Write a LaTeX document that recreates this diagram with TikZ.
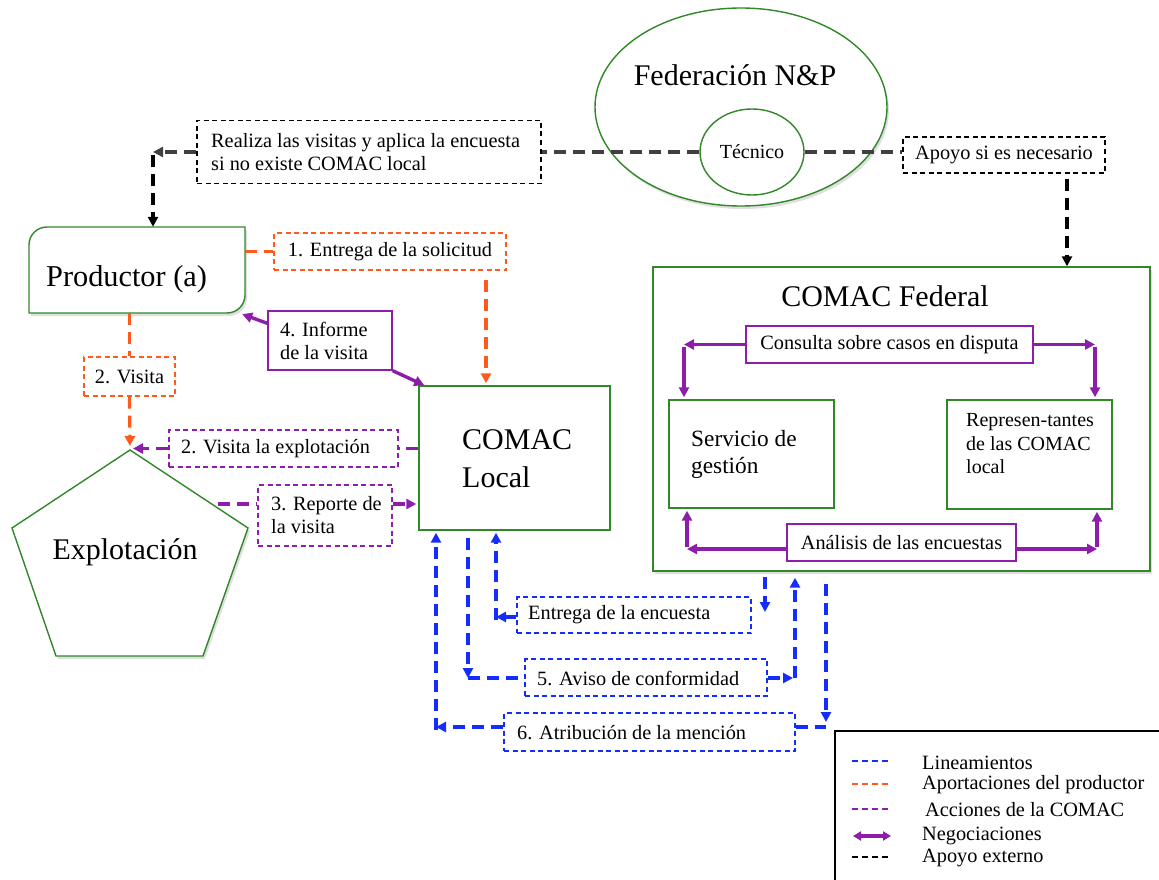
\documentclass[tikz,border=0pt]{standalone}
\usepackage{fontspec}
\setmainfont{Liberation Serif}
\usetikzlibrary{arrows.meta,shapes.geometric,shadows}
\definecolor{cgreen}{RGB}{50,135,40}
\definecolor{corange}{RGB}{255,90,30}
\definecolor{cpurple}{RGB}{140,30,170}
\definecolor{cblue}{RGB}{20,45,250}
\definecolor{cgrey}{RGB}{64,64,64}
\newcommand{\fsml}{\fontsize{20.3}{23}\selectfont}
\newcommand{\fbig}{\fontsize{30}{38}\selectfont}
\begin{document}
\begin{tikzpicture}[x=1pt,y=-1pt,
 txt/.style={font=\fsml, inner sep=0pt},
 dbox/.style={draw, line width=1.2pt, dash pattern=on 5pt off 3.5pt, fill=white, font=\fsml, inner sep=0pt},
 sbox/.style={draw, line width=1.4pt, fill=white, font=\fsml, inner sep=0pt},
 gbox/.style={draw=cgreen, line width=1.4pt, fill=white, inner sep=0pt},
 con/.style={line width=3.2pt, dash pattern=on 12pt off 7pt},
 neg/.style={line width=3.4pt, draw=cpurple},
 arr/.style={-{Triangle[length=10pt,width=10pt]}},
 shd/.style={drop shadow={opacity=0.25,shadow xshift=2pt,shadow yshift=-3pt}},
 lgd/.style={line width=1.5pt, dash pattern=on 6pt off 4pt},
]
\useasboundingbox (0,0) rectangle (1159,880);

% ---------- Federacion ----------
\node[ellipse, gbox, shd, minimum width=292pt, minimum height=198pt] (fed0) at (741,107) {};
\node[txt, font=\fbig] (fedt0) at (735,75) {Federación N\&P};
\node[ellipse, gbox, minimum width=104pt, minimum height=86pt, font=\fontsize{20}{23}\selectfont] (tec) at (752,152) {Técnico};

\node[dbox, minimum width=344pt, minimum height=63pt] (realiza) at (369,152) {};
\node[txt, align=left, anchor=west] (realizat) at (211,152) {Realiza las visitas y aplica la encuesta\\si no existe COMAC local};
\node[dbox, minimum width=202pt, minimum height=36pt] (apoyo) at (1004,155) {Apoyo si es necesario};

% ---------- Productor ----------
\node[minimum width=216pt, minimum height=86pt, inner sep=0pt] (prod) at (137,270) {};
\draw[cgreen, line width=1.4pt, fill=white, shd] (29,245) .. controls (29,235) and (37,227) .. (47,227) -- (245,227) -- (245,295) .. controls (245,305) and (237,313) .. (227,313) -- (29,313) -- cycle;
\node[txt, font=\fontsize{30.3}{36}\selectfont, anchor=west] (prodt) at (46,279) {Productor (a)};

% ---------- Explotacion ----------
\coordinate (ptop) at (130,450);
\coordinate (pr) at (248,528);
\coordinate (pbr) at (203,656);
\coordinate (pbl) at (56,656);
\coordinate (pl) at (12,528);
\draw[cgreen, line width=1.4pt, fill=white, shd] (ptop) -- (pr) -- (pbr) -- (pbl) -- (pl) -- cycle;
\node[txt, font=\fbig] (expl) at (125,552) {Explotación};

% ---------- COMAC Local ----------
\node[gbox, minimum width=191pt, minimum height=144pt] (local) at (514.5,458) {};
\node[txt, font=\fbig, align=left, anchor=west] (localt) at (462,459) {COMAC\\Local};

% ---------- orange ----------
\node[dbox, draw=corange, minimum width=232pt, minimum height=37pt] (sol) at (390,251.5) {1. Entrega de la solicitud};
\node[dbox, draw=corange, minimum width=91pt, minimum height=39pt] (vis) at (129.5,376.5) {2. Visita};

% ---------- purple boxes ----------
\node[sbox, draw=cpurple, minimum width=124pt, minimum height=59pt] (inf) at (330,340.5) {};
\node[txt, align=left, anchor=west] (inft) at (280,340.5) {4. Informe\\de la visita};
\node[dbox, draw=cpurple, minimum width=229pt, minimum height=37pt] (vex) at (283.5,448.5) {};
\node[txt, anchor=west] (vext) at (181,448.5) {2. Visita la explotación};
\node[dbox, draw=cpurple, minimum width=134pt, minimum height=61pt] (rep) at (325,515.5) {};
\node[txt, align=left, anchor=west] (rept) at (271,515.5) {3. Reporte de\\la visita};

% ---------- COMAC Federal ----------
\node[gbox, shd, minimum width=497pt, minimum height=304pt] (fedc) at (901.5,419) {};
\node[txt, font=\fbig] (fedct) at (885,296) {COMAC Federal};
\node[sbox, draw=cpurple, minimum width=287pt, minimum height=37pt] (cons) at (889.5,344.5) {Consulta sobre casos en disputa};
\node[gbox, minimum width=165pt, minimum height=108pt] (serv) at (751.5,454) {};
\node[txt, font=\fontsize{23.3}{27}\selectfont, align=left, anchor=west] (servt) at (691,454) {Servicio de\\gestión};
\node[gbox, minimum width=165pt, minimum height=109pt] (repr) at (1029.5,454.5) {};
\node[txt, font=\fontsize{20}{23.5}\selectfont, align=left, anchor=west] (reprt) at (966,444) {Represen-tantes\\de las COMAC\\local};
\node[sbox, draw=cpurple, minimum width=229pt, minimum height=37pt] (anal) at (901.5,542.5) {Análisis de las encuestas};

% ---------- blue boxes ----------
\node[dbox, draw=cblue, minimum width=234pt, minimum height=36pt] (enc) at (634,615) {};
\node[txt, anchor=west] (enct) at (528,615) {Entrega de la encuesta};
\node[dbox, draw=cblue, minimum width=242pt, minimum height=37pt] (avi) at (646,677.5) {};
\node[txt, anchor=west] (avit) at (537,678) {5. Aviso de conformidad};
\node[dbox, draw=cblue, minimum width=291pt, minimum height=38pt] (atr) at (649.5,732) {};
\node[txt, anchor=west] (atrt) at (517,733) {6. Atribución de la mención};

% ---------- black / grey connectors ----------
\coordinate (c1) at (153,152);
\coordinate (c2) at (1067,0);
\draw[con, cgrey] (tec.west) -- (realiza.east);
\draw[con, cgrey, arr] (realiza.west) -- (c1);
\draw[con, black, arr] ([yshift=-3pt]c1) -- (c1 |- prod.north);
\draw[con, cgrey] (tec.east) -- (apoyo.west |- tec.east);
\draw[con, black, arr, shorten <=5pt] (apoyo.south -| c2) -- (fedc.north -| c2);

% ---------- orange connectors ----------
\coordinate (c3) at (486,0);
\draw[con, corange] (prod.east |- sol.west) -- (sol.west);
\draw[con, corange, arr, shorten <=9pt, shorten >=2pt] (sol.south -| c3) -- (local.north -| c3);
\draw[con, corange] (prod.south -| vis.north) -- (vis.north);
\draw[con, corange, arr, shorten >=4pt] (vis.south) -- (ptop);

% ---------- purple connectors ----------
\draw[neg, arr] ([yshift=-13pt]inf.north west) -- ([xshift=-3pt,yshift=-1pt]prod.south east);
\draw[neg, arr] (inf.south east) -- ([xshift=6pt]local.north west);
\coordinate (c4) at (133,448.5);
\draw[con, cpurple] (local.west |- vex.east) -- (vex.east);
\draw[con, cpurple, arr] (vex.west) -- (c4);
\coordinate (c5) at (218,504);
\draw[con, cpurple] (c5) -- (rep.west |- c5);
\draw[con, cpurple, arr, shorten >=2pt] (rep.east |- c5) -- (local.west |- c5);

% ---------- negotiation arrows ----------
\coordinate (k1) at (684,344.5);
\coordinate (k2) at (1095,344.5);
\coordinate (k3) at (687,549);
\coordinate (k4) at (1097,549);
\draw[neg, arr] (cons.west) -- (k1);
\draw[neg, arr, shorten >=2pt] ([yshift=-2pt]k1) -- (k1 |- serv.north);
\draw[neg, arr] (cons.east) -- (k2);
\draw[neg, arr, shorten >=2pt] ([yshift=-2pt]k2) -- (k2 |- repr.north);
\draw[neg, arr] (anal.west |- k3) -- (k3);
\draw[neg, arr, shorten >=2pt] ([yshift=2pt]k3) -- (k3 |- serv.south);
\draw[neg, arr] (anal.east |- k4) -- (k4);
\draw[neg, arr, shorten >=2pt] ([yshift=2pt]k4) -- (k4 |- repr.south);

% ---------- blue connectors ----------
\coordinate (b1) at (436,727);
\coordinate (b2) at (468,678);
\coordinate (b3) at (496,617);
\coordinate (b4) at (765,612);
\coordinate (b5) at (795,678);
\coordinate (b6) at (826,722);
\coordinate (b6b) at (826,727);
\draw[con, cblue, arr] (atr.west |- b1) -- (b1);
\draw[con, cblue, arr, shorten >=2pt] ([yshift=-3pt]b1) -- (b1 |- local.south);
\draw[con, cblue, arr, shorten <=7pt] (local.south -| b2) -- (b2);
\draw[con, cblue] (b2) -- (avi.west |- b2);
\draw[con, cblue, arr] (enc.west |- b3) -- (b3);
\draw[con, cblue, arr, shorten >=2pt] ([yshift=-3pt]b3) -- (b3 |- local.south);
\draw[con, cblue, arr, shorten <=5pt] (fedc.south -| b4) -- (b4);
\draw[con, cblue, arr, shorten >=2pt] (avi.east |- b5) -- (b5);
\draw[con, cblue, arr, shorten >=6pt] (b5) -- (b5 |- fedc.south);
\draw[con, cblue] (atr.east |- b6b) -- (b6b);
\draw[con, cblue, arr, shorten <=12pt] (fedc.south -| b6) -- (b6);

% ---------- legend ----------
\coordinate (lg) at (835,731);
\draw[line width=1.6pt] (835,880) -- (lg) -- (1159,731);
\draw[lgd, cblue] (852,761) -- (890,761);
\draw[lgd, corange] (852,784) -- (890,784);
\draw[lgd, cpurple] (852,809) -- (890,809);
\draw[neg, {Triangle[length=8pt,width=9pt]}-{Triangle[length=8pt,width=9pt]}] (853,836) -- (891,836);
\draw[lgd, black] (852,857) -- (890,857);
\node[txt, anchor=west] (l1) at (922,763) {Lineamientos};
\node[txt, anchor=west] (l2) at (922,785) {Aportaciones del productor};
\node[txt, anchor=west] (l3) at (925,810) {Acciones de la COMAC};
\node[txt, anchor=west] (l4) at (922,836) {Negociaciones};
\node[txt, anchor=west] (l5) at (922,858) {Apoyo externo};
\end{tikzpicture}
\end{document}
